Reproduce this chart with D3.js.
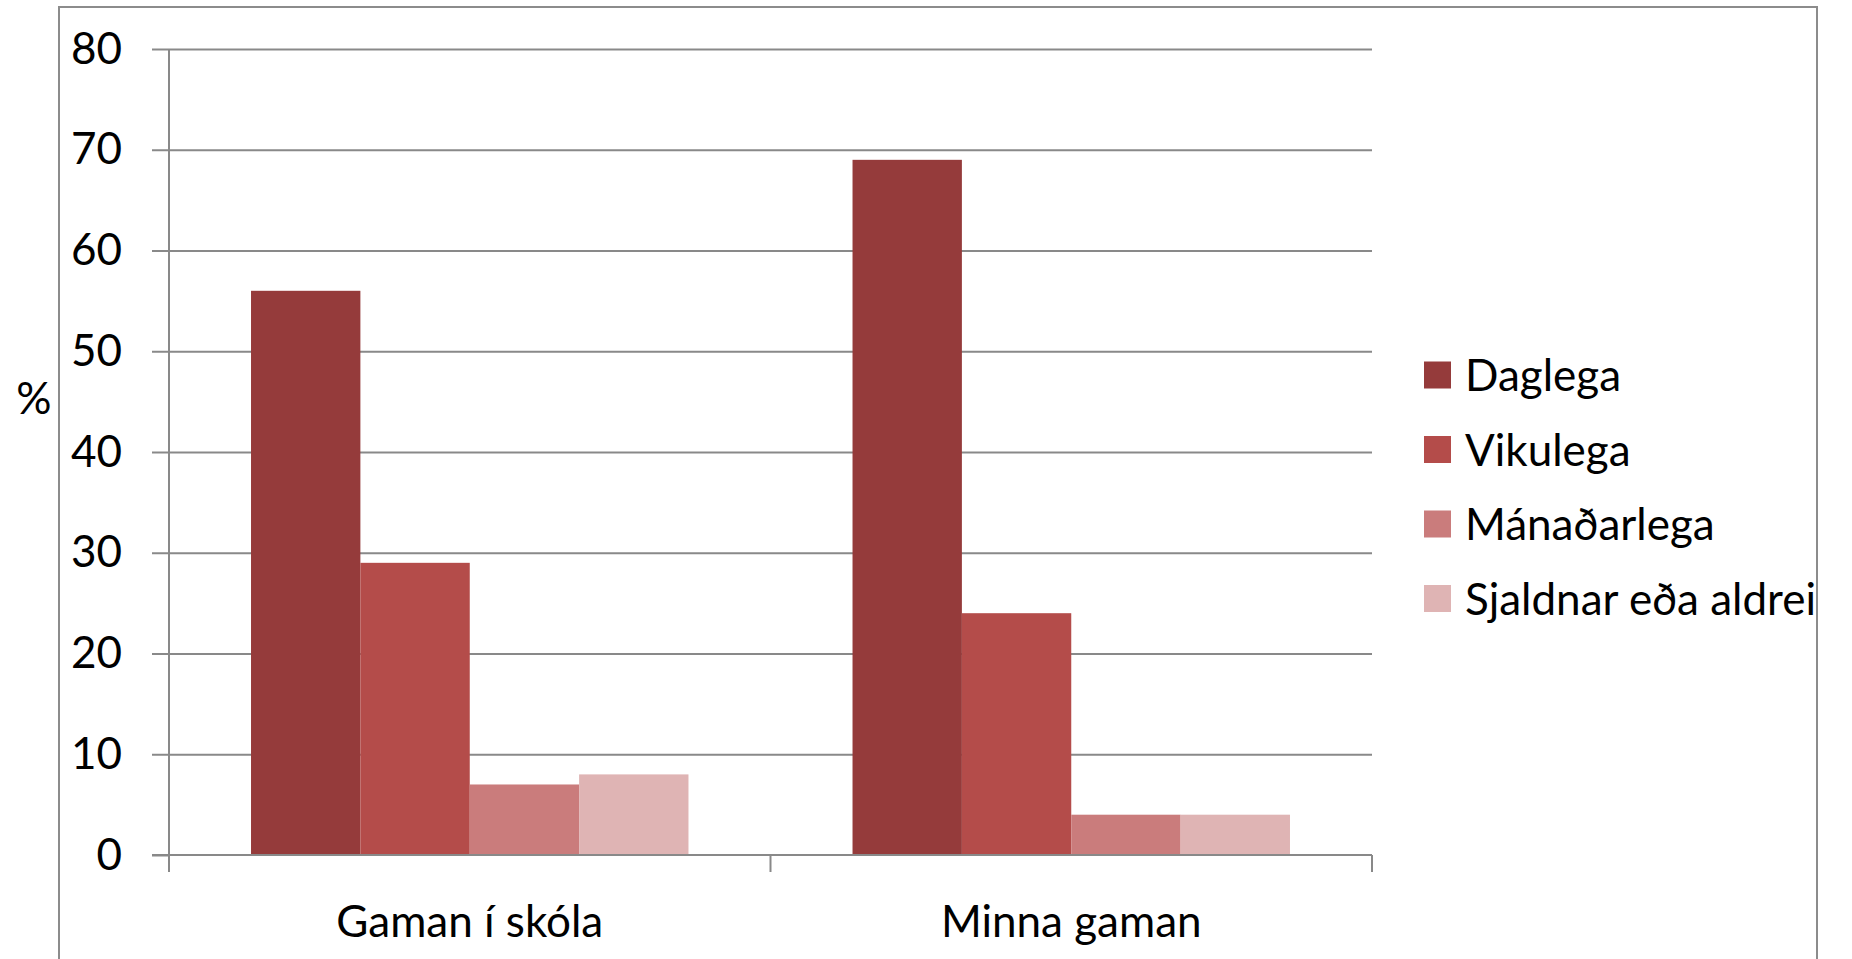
<!DOCTYPE html>
<html>
<head>
<meta charset="utf-8">
<script src="https://cdn.jsdelivr.net/npm/d3@7"></script>
<style>
  body { margin: 0; background: #fff; }
  text { font-family: Lato, "Open Sans", sans-serif; fill: #000; }
</style>
</head>
<body>
<svg id="chart"></svg>
<script>
// Data
let categories = ["Gaman í skóla", "Minna gaman"];
let seriesNames = ["Daglega", "Vikulega", "Mánaðarlega", "Sjaldnar eða aldrei"];
let seriesColors = ["#953b3b", "#b44c4a", "#ca7c7c", "#dfb4b4"];
let daglega = [56, 69];
let vikulega = [29, 24];
let manadarlega = [7, 4];
let sjaldnar = [8, 4];
let yTicks = [0, 10, 20, 30, 40, 50, 60, 70, 80];

let seriesValues = [daglega, vikulega, manadarlega, sjaldnar];

// Dimensions
let width = 1852, height = 959;
let plot = {left: 169, right: 1372, top: 49, bottom: 855};
let tickLen = 17;
let fontSize = 44;

let svg = d3.select("#chart")
    .attr("width", width)
    .attr("height", height);

// outer frame (bottom edge is off the picture)
svg.append("rect")
    .attr("x", 59).attr("y", 7)
    .attr("width", 1758).attr("height", 1000)
    .attr("fill", "none")
    .attr("stroke", "#8c8c8c")
    .attr("stroke-width", 2);

// scales
let y = d3.scaleLinear().domain([0, 80]).range([plot.bottom, plot.top]);
let x0 = d3.scaleBand().domain(categories).range([plot.left, plot.right]);
let x1 = d3.scaleBand().domain(seriesNames).range([0, x0.bandwidth()])
    .paddingInner(0).paddingOuter(0.75);

// gridlines
svg.append("g")
    .attr("transform", `translate(${plot.left}, 0)`)
    .call(d3.axisLeft(y).tickValues(yTicks.slice(1)).tickSize(-(plot.right - plot.left)).tickFormat(""))
    .call(g => g.select(".domain").remove())
    .selectAll("line")
      .attr("stroke", "#898989")
      .attr("stroke-width", 2);

// y axis ticks + labels
let yAxis = svg.append("g")
    .attr("transform", `translate(${plot.left}, 0)`)
    .call(d3.axisLeft(y).tickValues(yTicks).tickSize(tickLen).tickPadding(30));
yAxis.select(".domain").remove();
yAxis.selectAll("line").attr("stroke", "#898989").attr("stroke-width", 2);
yAxis.selectAll("text")
    .style("font-size", fontSize + "px")
    .style("font-family", "Lato, 'Open Sans', sans-serif")
    .attr("fill", "#000");

// bars
let groups = svg.append("g").selectAll("g")
  .data(categories)
  .join("g")
    .attr("transform", d => `translate(${x0(d)}, 0)`);

groups.selectAll("rect")
  .data((c, ci) => seriesNames.map((s, si) => ({series: s, value: seriesValues[si][ci], color: seriesColors[si]})))
  .join("rect")
    .attr("x", d => x1(d.series))
    .attr("y", d => y(d.value))
    .attr("width", x1.bandwidth())
    .attr("height", d => y(0) - y(d.value))
    .attr("fill", d => d.color);

// x axis line and boundary ticks
let xAxis = svg.append("g");
xAxis.append("line")
    .attr("x1", plot.left - tickLen).attr("x2", plot.right)
    .attr("y1", y(0)).attr("y2", y(0))
    .attr("stroke", "#898989").attr("stroke-width", 2);
// y axis line
xAxis.append("line")
    .attr("x1", plot.left).attr("x2", plot.left)
    .attr("y1", plot.top).attr("y2", y(0) + tickLen)
    .attr("stroke", "#898989").attr("stroke-width", 2);

let bounds = categories.map(c => x0(c)).concat([x0(categories[categories.length - 1]) + x0.bandwidth()]);
xAxis.selectAll("line.tick")
  .data(bounds.slice(1))
  .join("line")
    .attr("class", "tick")
    .attr("x1", d => d).attr("x2", d => d)
    .attr("y1", y(0)).attr("y2", y(0) + tickLen)
    .attr("stroke", "#898989").attr("stroke-width", 2);

xAxis.selectAll("text")
  .data(categories)
  .join("text")
    .attr("x", d => x0(d) + x0.bandwidth() / 2)
    .attr("y", 937)
    .attr("text-anchor", "middle")
    .style("font-size", fontSize + "px")
    .text(d => d);

// y axis title
svg.append("text")
    .attr("x", 34)
    .attr("y", 414)
    .attr("text-anchor", "middle")
    .style("font-size", fontSize + "px")
    .text("%");

// legend
let legend = svg.append("g").selectAll("g")
  .data(seriesNames)
  .join("g")
    .attr("transform", (d, i) => `translate(1424, ${375 + i * 74.5})`);

legend.append("rect")
    .attr("x", 0).attr("y", -13.5)
    .attr("width", 27).attr("height", 27)
    .attr("fill", (d, i) => seriesColors[i]);

legend.append("text")
    .attr("x", 41)
    .attr("y", 16)
    .style("font-size", fontSize + "px")
    .text(d => d);
</script>
</body>
</html>
